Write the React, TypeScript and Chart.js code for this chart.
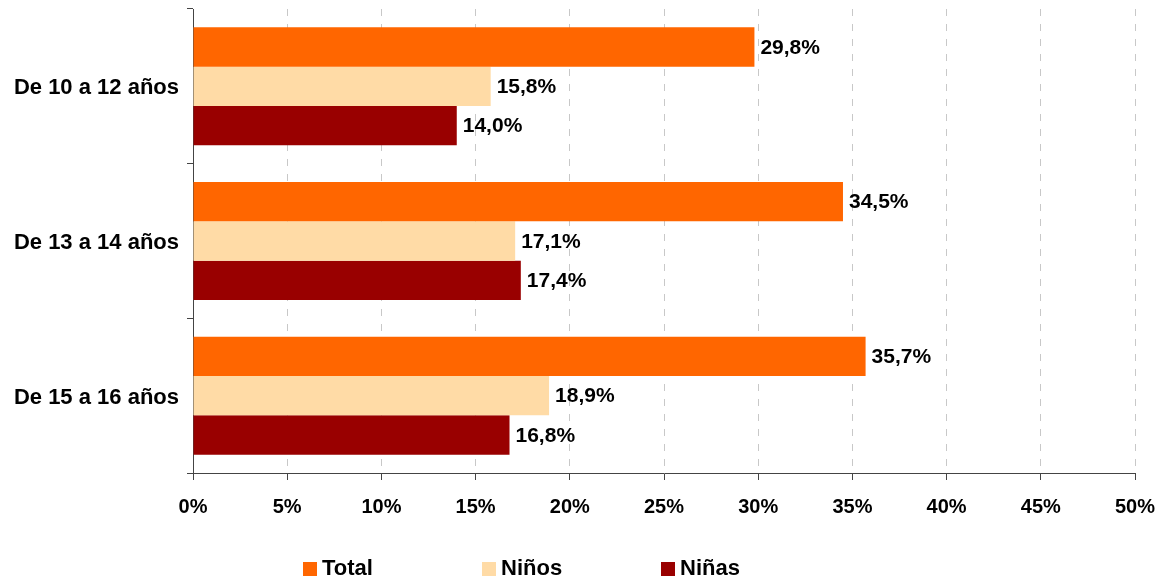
import React, { useEffect, useRef } from "react";
import { Chart, registerables } from "chart.js";

Chart.register(...registerables);

const categories = ["De 10 a 12 años", "De 13 a 14 años", "De 15 a 16 años"];
const seriesNames = ["Total", "Niños", "Niñas"];
const totalValues = [29.8, 34.5, 35.7];
const ninosValues = [15.8, 17.1, 18.9];
const ninasValues = [14.0, 17.4, 16.8];
const seriesColors = ["#FF6600", "#FFDBA6", "#990000"];
const xTickMin = 0;
const xTickMax = 50;
const xTickStep = 5;

const FONT_FAMILY = "'Liberation Sans', Arial, sans-serif";
const fmt = (v: number) => v.toFixed(1).replace(".", ",") + "%";

const dataLabelPlugin = {
  id: "dataLabels",
  afterDatasetsDraw(chart: any) {
    const ctx = chart.ctx;
    ctx.save();
    ctx.font = `bold 21px ${FONT_FAMILY}`;
    ctx.fillStyle = "#000";
    ctx.textAlign = "left";
    ctx.textBaseline = "middle";
    chart.data.datasets.forEach((ds: any, di: number) => {
      const meta = chart.getDatasetMeta(di);
      meta.data.forEach((bar: any, i: number) => {
        ctx.fillText(fmt(ds.data[i]), bar.x + 6, bar.y + 1);
      });
    });
    ctx.restore();
  },
};

const legendPlugin = {
  id: "customLegend",
  afterDraw(chart: any) {
    const ctx = chart.ctx;
    ctx.save();
    ctx.font = `bold 22px ${FONT_FAMILY}`;
    ctx.textBaseline = "middle";
    ctx.textAlign = "left";
    const startX = 303;
    const step = 179;
    const boxY = 562;
    const box = 14;
    chart.data.datasets.forEach((ds: any, i: number) => {
      const x = startX + i * step;
      ctx.fillStyle = ds.backgroundColor;
      ctx.fillRect(x, boxY, box, box);
      ctx.fillStyle = "#000";
      ctx.fillText(ds.label, x + box + 5, boxY + box / 2);
    });
    ctx.restore();
  },
};

export default function App() {
  const ref = useRef<HTMLCanvasElement>(null);
  useEffect(() => {
    if (!ref.current) return;
    const values = [totalValues, ninosValues, ninasValues];
    const chart = new Chart(ref.current, {
      type: "bar",
      data: {
        labels: categories,
        datasets: seriesNames.map((name, i) => ({
          label: name,
          data: values[i],
          backgroundColor: seriesColors[i],
          borderWidth: 0,
          barPercentage: 1,
          categoryPercentage: 0.763,
        })),
      },
      options: {
        indexAxis: "y",
        responsive: false,
        animation: false,
        layout: { padding: { top: 9, right: 31, left: 0, bottom: 0 } },
        plugins: {
          legend: { display: false },
          tooltip: { enabled: false },
        },
        scales: {
          x: {
            min: xTickMin,
            max: xTickMax,
            afterFit: (s: any) => {
              s.height = 108;
              s.paddingLeft = 0;
              s.paddingRight = 0;
            },
            ticks: {
              stepSize: xTickStep,
              callback: (v: any) => v + "%",
              color: "#000",
              font: { family: FONT_FAMILY, size: 20, weight: "bold" },
              padding: 15,
              maxRotation: 0,
            },
            grid: {
              color: "#c8c8c8",
              lineWidth: 1,
              tickLength: 7,
              tickColor: "#444",
              tickBorderDash: [],
              drawTicks: true,
            },
            border: { display: true, color: "#444", width: 1, dash: [7, 8] },
          },
          y: {
            afterFit: (s: any) => {
              s.width = 193;
              s.paddingTop = 0;
              s.paddingBottom = 0;
            },
            ticks: {
              color: "#000",
              font: { family: FONT_FAMILY, size: 22, weight: "bold" },
              padding: 8,
              labelOffset: 2,
            },
            grid: {
              offset: true,
              drawOnChartArea: false,
              tickLength: 6,
              tickColor: "#444",
            },
            border: { display: true, color: "#444", width: 1 },
          },
        },
      },
      plugins: [dataLabelPlugin, legendPlugin],
    });
    return () => chart.destroy();
  }, []);
  return (
    <div style={{ position: "absolute", left: 0, top: 0 }}>
      <canvas ref={ref} width={1166} height={581} />
    </div>
  );
}
